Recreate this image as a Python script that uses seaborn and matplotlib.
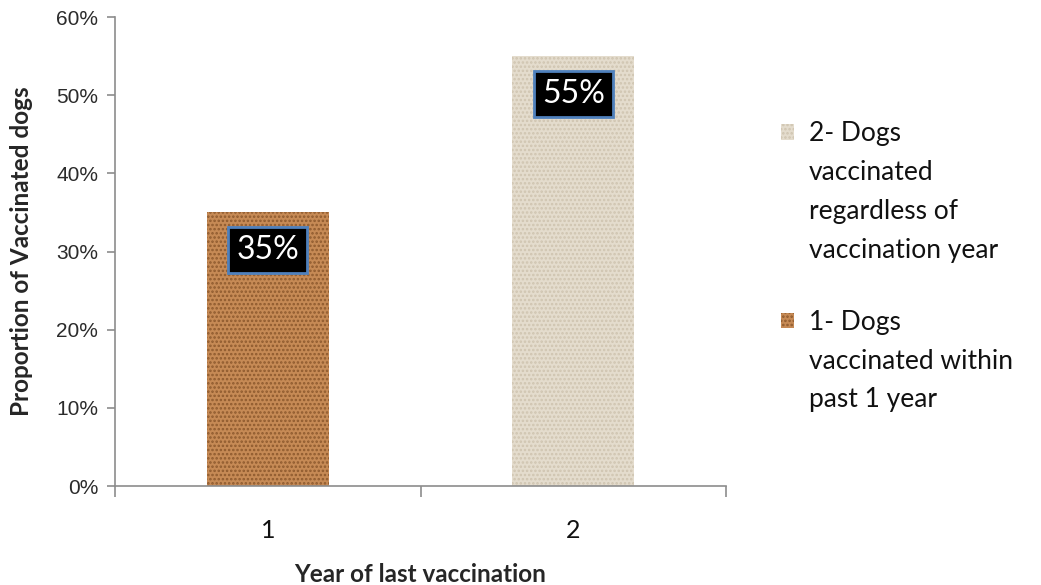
import matplotlib
matplotlib.use("Agg")
import matplotlib.pyplot as plt
import seaborn as sns
import pandas as pd
from matplotlib.patches import Patch
from matplotlib.ticker import PercentFormatter

years = ["1", "2"]
proportions = [0.35, 0.55]
groups = ["1- Dogs\nvaccinated within\npast 1 year",
          "2- Dogs\nvaccinated\nregardless of\nvaccination year"]
bar_colors = ["#C68A55", "#E4DCCD"]
speckle_colors = ["#8E5A2E", "#CFC4B0"]
value_labels = ["35%", "55%"]

df = pd.DataFrame({"year": years, "prop": proportions, "group": groups})

sns.set_style("white")
plt.rcParams["font.family"] = ["Lato", "DejaVu Sans"]
plt.rcParams["hatch.linewidth"] = 1.2

fig = plt.figure(figsize=(10.41, 5.85), dpi=100)
ax = fig.add_axes([0.1105, 0.1692, 0.5869, 0.8017])

sns.barplot(data=df, x="year", y="prop", hue="group", palette=bar_colors,
            dodge=False, width=0.4, ax=ax, legend=False)

for patch, fc, sc in zip(ax.patches, bar_colors, speckle_colors):
    patch.set_facecolor(fc)
    patch.set_edgecolor(sc)
    patch.set_linewidth(0)
    patch.set_hatch("....")

for i, (v, lab) in enumerate(zip(proportions, value_labels)):
    ax.text(i, v - 0.048, lab, ha="center", va="center", color="white",
            fontsize=23,
            bbox=dict(boxstyle="square,pad=0.25", facecolor="black",
                      edgecolor="#4F81BD", linewidth=2))

ax.set_xlim(-0.5, 1.5)
ax.set_ylim(0, 0.6)
ax.set_yticks([0, 0.1, 0.2, 0.3, 0.4, 0.5, 0.6])
ax.yaxis.set_major_formatter(PercentFormatter(1.0, decimals=0))

sns.despine(ax=ax)
for s in ["left", "bottom"]:
    ax.spines[s].set_color("#8C8C8C")
    ax.spines[s].set_linewidth(1.2)

ax.tick_params(axis="y", which="major", length=6, width=1.2, color="#8C8C8C",
               direction="out", left=True, pad=6, labelsize=15, labelcolor="#2b2b2b")
for t in ax.get_yticklabels():
    t.set_fontfamily(["Liberation Sans", "DejaVu Sans"])

ax.set_xticks([-0.5, 0.5, 1.5], minor=True)
ax.tick_params(axis="x", which="minor", length=8, width=1.2, color="#8C8C8C",
               direction="out", bottom=True)
ax.tick_params(axis="x", which="major", length=0, pad=24, labelsize=18,
               labelcolor="#111111")

ax.set_xlabel("Year of last vaccination", fontsize=17.5, fontweight="bold",
              labelpad=15)
ax.set_ylabel("Proportion of Vaccinated dogs", fontsize=17.5, fontweight="bold",
              labelpad=17)

# legend: one entry per text line so the swatch sits on the first line
handles, labels = [], []
spacer_idx = None
for i in (1, 0):
    lines = groups[i].split("\n")
    for j, line in enumerate(lines):
        if j == 0:
            handles.append(Patch(facecolor=bar_colors[i], edgecolor=speckle_colors[i],
                                 linewidth=0, hatch="...."))
        else:
            handles.append(Patch(visible=False))
        labels.append(line)
    if i == 1:
        spacer_idx = len(labels)
        handles.append(Patch(visible=False))
        labels.append(" ")
leg = ax.legend(handles, labels, loc="upper left", bbox_to_anchor=(1.073, 0.80),
                frameon=False, fontsize=19, handlelength=0.5, handleheight=0.5,
                handletextpad=0.55, labelspacing=0.52, borderaxespad=0,
                labelcolor="#111111")
leg.get_texts()[spacer_idx].set_fontsize(11)

fig.savefig("out.png", dpi=100)
